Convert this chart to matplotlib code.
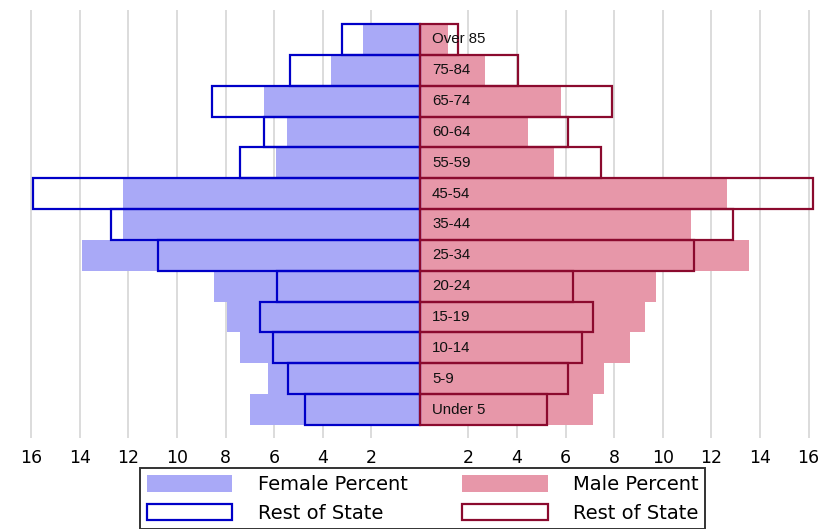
import matplotlib.pyplot as plt
from matplotlib.patches import Patch

age_groups = [
    "Under 5", "5-9", "10-14", "15-19", "20-24", "25-34", "35-44",
    "45-54", "55-59", "60-64", "65-74", "75-84", "Over 85"
]

female_pct = [7.0, 6.26, 7.4, 7.94, 8.48, 13.9, 12.22, 12.22, 5.93, 5.47, 6.42, 3.66, 2.35]
female_rest = [4.73, 5.43, 6.05, 6.58, 5.88, 10.78, 12.7, 15.93, 7.4, 6.42, 8.56, 5.35, 3.2]
male_pct = [7.12, 7.57, 8.64, 9.26, 9.71, 13.54, 11.15, 12.63, 5.51, 4.44, 5.8, 2.67, 1.15]
male_rest = [5.23, 6.09, 6.67, 7.12, 6.3, 11.28, 12.88, 16.17, 7.45, 6.09, 7.9, 4.03, 1.56]

tick_values = [-16, -14, -12, -10, -8, -6, -4, -2, 2, 4, 6, 8, 10, 12, 14, 16]

female_fill = "#a9a9f7"
male_fill = "#e797a9"
female_edge = "#0000c8"
male_edge = "#8b0a2e"

fig = plt.figure(figsize=(8.3, 5.29), dpi=100)
ax = fig.add_axes([0.0229, 0.172, 0.966, 0.809])

y = list(range(len(age_groups)))

ax.barh(y, [-v for v in female_pct], height=1.0, color=female_fill, zorder=2)
ax.barh(y, male_pct, height=1.0, color=male_fill, zorder=2)

ax.barh(y, [-v for v in female_rest], height=1.0, fill=False,
        edgecolor=female_edge, linewidth=1.6, zorder=3)
ax.barh(y, male_rest, height=1.0, fill=False,
        edgecolor=male_edge, linewidth=1.6, zorder=3)

for i, label in enumerate(age_groups):
    ax.text(0.5, i, label, ha="left", va="center", fontsize=10.8,
            family="Liberation Sans", color="#111111", zorder=4)

ax.set_xlim(-16.5, 16.5)
ax.set_ylim(-0.92, 12.95)

ax.set_xticks(tick_values)
ax.set_xticklabels([str(abs(v)) for v in tick_values], fontsize=12.5)
ax.tick_params(axis="x", length=0, pad=8)
ax.set_yticks([])

for v in tick_values:
    ax.axvline(v, color="#dcdcdc", linewidth=1.4, zorder=0)

for side in ["top", "right", "bottom", "left"]:
    ax.spines[side].set_visible(False)

handles = [
    Patch(facecolor=female_fill, edgecolor="none", label="Female Percent"),
    Patch(facecolor="white", edgecolor=female_edge, linewidth=1.6, label="Rest of State"),
    Patch(facecolor=male_fill, edgecolor="none", label="Male Percent"),
    Patch(facecolor="white", edgecolor=male_edge, linewidth=1.6, label="Rest of State"),
]

leg = fig.legend(
    handles=handles,
    ncol=2,
    loc="upper left",
    bbox_to_anchor=(140 / 830, 1 - 468 / 529),
    fontsize=14,
    frameon=True,
    fancybox=False,
    handlelength=4.4,
    handleheight=0.95,
    handletextpad=1.3,
    columnspacing=2.8,
    labelspacing=0.5,
    borderpad=0.35,
    borderaxespad=0,
)
leg.get_frame().set_edgecolor("black")
leg.get_frame().set_linewidth(1.4)

plt.savefig("out.png", dpi=100)
plt.close()
